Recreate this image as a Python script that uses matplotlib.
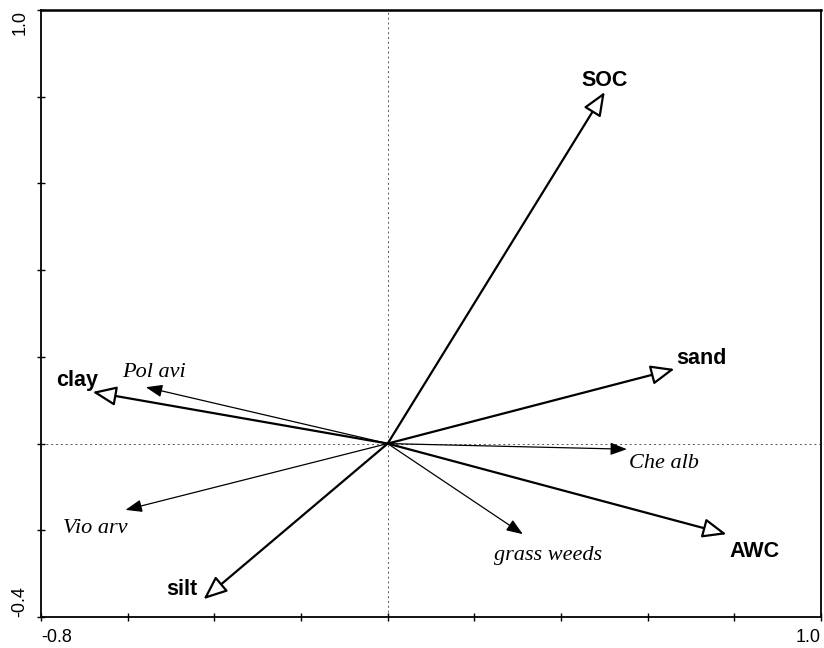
import matplotlib
matplotlib.use("Agg")
import matplotlib.pyplot as plt
import numpy as np

# Environmental variables (biplot arrows, open heads)
env_names = ["SOC", "sand", "clay", "silt", "AWC"]
env_x = [0.501, 0.662, -0.681, -0.425, 0.782]
env_y = [0.811, 0.172, 0.119, -0.359, -0.209]

# Species (filled heads)
sp_names = ["Pol avi", "Vio arv", "Che alb", "grass weeds"]
sp_x = [-0.558, -0.605, 0.552, 0.312]
sp_y = [0.130, -0.153, -0.013, -0.209]

x_ticks = [-0.8, -0.6, -0.4, -0.2, 0.0, 0.2, 0.4, 0.6, 0.8, 1.0]
y_ticks = [-0.4, -0.2, 0.0, 0.2, 0.4, 0.6, 0.8, 1.0]

# label offsets (pixels) relative to arrow tips
env_off = {"SOC": (0, 6), "sand": (27, 5), "clay": (-15, 6), "silt": (-22, 4), "AWC": (28, -23)}
sp_off = {"Pol avi": (8, 10), "Vio arv": (-30, -23), "Che alb": (37, -19), "grass weeds": (25, -26)}

fig = plt.figure(figsize=(8.24, 6.48), dpi=100)
ax = fig.add_axes([41/824, 31/648, 780/824, 607/648])
ax.set_xlim(-0.8, 1.0)
ax.set_ylim(-0.4, 1.0)

ax.axhline(0, color="#555555", lw=0.7, ls=(0, (2, 3)), zorder=1)
ax.axvline(0, color="#555555", lw=0.7, ls=(0, (2, 3)), zorder=1)

for name, x, y in zip(env_names, env_x, env_y):
    ax.annotate("", xy=(x, y), xytext=(0, 0),
                arrowprops=dict(arrowstyle="-|>,head_length=1.45,head_width=0.6",
                                mutation_scale=10, lw=1.6, fc="white", ec="black",
                                shrinkA=0, shrinkB=0), zorder=3)
    ax.annotate(name, xy=(x, y), xytext=env_off[name], textcoords="offset pixels",
                ha="center", va="baseline", fontsize=15.5, fontweight="bold",
                family="Liberation Sans")

for name, x, y in zip(sp_names, sp_x, sp_y):
    ax.annotate("", xy=(x, y), xytext=(0, 0),
                arrowprops=dict(arrowstyle="-|>,head_length=1.0,head_width=0.38",
                                mutation_scale=10, lw=0.9, fc="black", ec="black",
                                shrinkA=0, shrinkB=0), zorder=3)
    ax.annotate(name, xy=(x, y), xytext=sp_off[name], textcoords="offset pixels",
                ha="center", va="baseline", fontsize=16, style="italic",
                family="Liberation Serif")

xl = ["" for _ in x_ticks]
xl[0] = "-0.8"
xl[-1] = "1.0"
yl = ["" for _ in y_ticks]
yl[0] = "-0.4"
yl[-1] = "1.0"
ax.set_xticks(x_ticks, xl)
ax.set_yticks(y_ticks, yl)
ax.tick_params(direction="inout", length=6, width=1, labelsize=13, pad=6)
for t in ax.get_xticklabels():
    t.set_family("Liberation Sans")
xt = ax.get_xticklabels()
xt[0].set_ha("left")
xt[-1].set_ha("right")
yt = ax.get_yticklabels()
for t in yt:
    t.set_rotation(90)
    t.set_family("Liberation Sans")
yt[0].set_va("bottom")
yt[-1].set_va("top")

for s in ax.spines.values():
    s.set_linewidth(1.3)
ax.spines["top"].set_linewidth(1.8)

fig.savefig("out.png", dpi=100)
